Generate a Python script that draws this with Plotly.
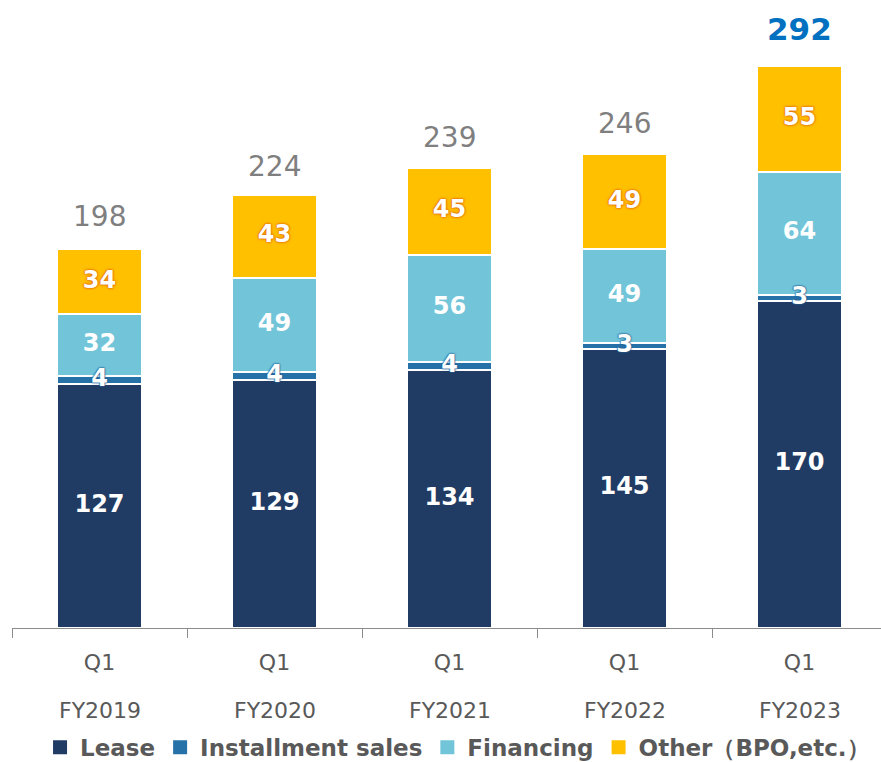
import numpy as np
import plotly.graph_objects as go

quarters = ["Q1", "Q1", "Q1", "Q1", "Q1"]
years = ["FY2019", "FY2020", "FY2021", "FY2022", "FY2023"]
lease = [127, 129, 134, 145, 170]
installment = [4, 4, 4, 3, 3]
financing = [32, 49, 56, 49, 64]
other = [34, 43, 45, 49, 55]
totals = [198, 224, 239, 246, 292]

series = [
    ("Lease", lease, "#213C64"),
    ("Installment sales", installment, "#2672A8"),
    ("Financing", financing, "#72C5D9"),
    ("Other（BPO,etc.）", other, "#FFC000"),
]

x = years
fig = go.Figure()
for name, vals, col in series:
    fig.add_trace(go.Bar(
        x=x, y=vals, name=name, marker=dict(color=col, line=dict(color="white", width=2)),
        width=0.49, textposition="none", hoverinfo="skip", showlegend=False,
    ))

# legend entries with bigger square symbols
for name, vals, col in series:
    fig.add_trace(go.Scatter(
        x=[x[0]], y=[None], mode="markers", name=name,
        marker=dict(symbol="square", size=14, color=col),
    ))

# segment labels at the middle of each segment
bottoms = np.zeros(len(years))
label_styles = [
    dict(color="white", shadow="none"),
    dict(color="white", shadow="0px 0px 2px #1F5F96, 0px 0px 2px #1F5F96, 0px 0px 1px #1F5F96"),
    dict(color="white", shadow="none"),
    dict(color="white", shadow="0px 0px 3px #E46C0A, 0px 0px 2px #E46C0A, 0px 0px 1px #E46C0A"),
]
for (name, vals, col), st in zip(series, label_styles):
    v = np.array(vals, dtype=float)
    mids = bottoms + v / 2
    fig.add_trace(go.Scatter(
        x=x, y=mids, mode="text", text=[str(t) for t in vals], showlegend=False,
        textposition="middle center", hoverinfo="skip",
        textfont=dict(family="DejaVu Sans", size=24, weight="bold", **st),
    ))
    bottoms = bottoms + v

for i, t in enumerate(totals):
    last = i == len(totals) - 1
    fig.add_annotation(
        x=x[i], y=t, xref="x", yref="y", text=str(t), showarrow=False,
        yanchor="bottom", yshift=17 if last else 12,
        font=dict(family="DejaVu Sans", size=31 if last else 28,
                  color="#0070C0" if last else "#7F7F7F",
                  weight="bold" if last else "normal"),
    )

for i, yr in enumerate(years):
    fig.add_annotation(
        x=x[i], y=0, xref="x", yref="y", text=yr, showarrow=False,
        yanchor="middle", yshift=-82,
        font=dict(family="DejaVu Sans", size=22, color="#595959"),
    )

fig.update_layout(
    width=881, height=762, barmode="stack",
    margin=dict(l=12, r=0, t=0, b=134, autoexpand=False),
    paper_bgcolor="white", plot_bgcolor="white",
    showlegend=True,
    legend=dict(orientation="h", x=0.5127, xanchor="center", y=-0.19, yanchor="middle",
                font=dict(family="DejaVu Sans", size=23, color="#595959", weight="bold"),
                itemwidth=30, traceorder="normal"),
    xaxis=dict(
        type="category", tickmode="array", tickvals=x, ticktext=quarters,
        range=[-0.5, -0.5 + 869 / 175], tickson="boundaries", ticks="outside", ticklen=9,
        tickcolor="#8C8C8C", showline=True, linecolor="#8C8C8C", linewidth=1,
        tickfont=dict(family="DejaVu Sans", size=22, color="#595959"),
        ticklabelstandoff=15,
        showgrid=False, zeroline=False,
    ),
    yaxis=dict(range=[0, 628 / 1.925], visible=False, showgrid=False, zeroline=False),
)

fig.write_html(
    "out.html",
    config={"displayModeBar": False},
    post_script="document.body.style.margin='0';document.body.style.padding='0';",
)
